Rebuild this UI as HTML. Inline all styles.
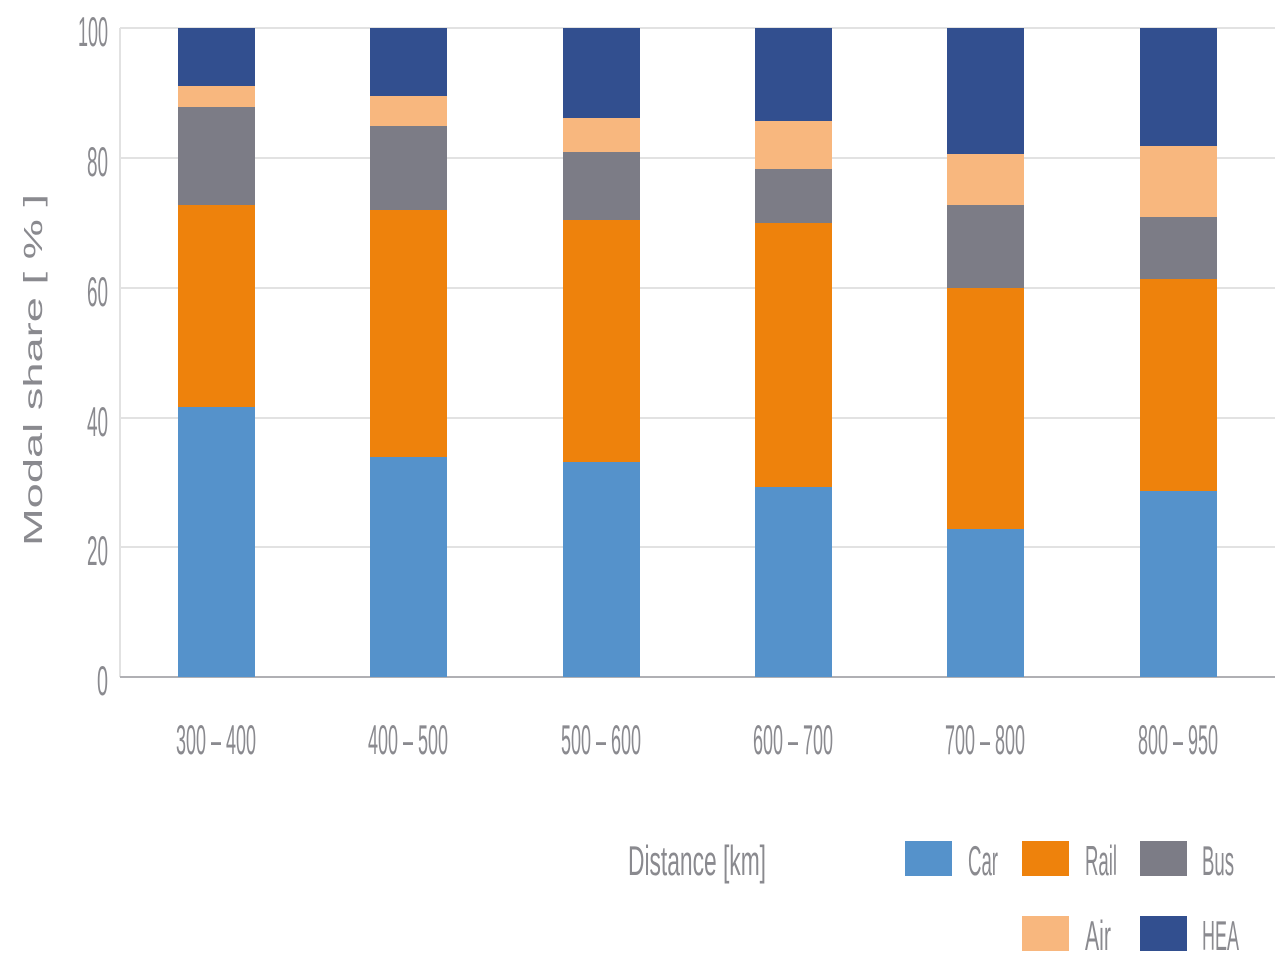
<!DOCTYPE html>
<html><head><meta charset="utf-8"><style>html,body{margin:0;padding:0;background:#fff;}svg{display:block}</style></head>
<body>
<svg width="1280" height="960" xmlns="http://www.w3.org/2000/svg" font-family="Liberation Sans, sans-serif" fill="#8a8a8f">
<g stroke="#e2e2e2" stroke-width="2">
<line x1="120" y1="28" x2="1275" y2="28"/>
<line x1="120" y1="158" x2="1275" y2="158"/>
<line x1="120" y1="288" x2="1275" y2="288"/>
<line x1="120" y1="418" x2="1275" y2="418"/>
<line x1="120" y1="547" x2="1275" y2="547"/>
<line x1="120" y1="28" x2="120" y2="677"/>
</g>
<line x1="120" y1="677" x2="1275" y2="677" stroke="#b0b0b4" stroke-width="2"/>
<g font-size="42">
<text x="108" y="46" text-anchor="end" textLength="30" lengthAdjust="spacingAndGlyphs">100</text>
<text x="108" y="176" text-anchor="end" textLength="21" lengthAdjust="spacingAndGlyphs">80</text>
<text x="108" y="306" text-anchor="end" textLength="21" lengthAdjust="spacingAndGlyphs">60</text>
<text x="108" y="436" text-anchor="end" textLength="21" lengthAdjust="spacingAndGlyphs">40</text>
<text x="108" y="565" text-anchor="end" textLength="21" lengthAdjust="spacingAndGlyphs">20</text>
<text x="108" y="695" text-anchor="end" textLength="11" lengthAdjust="spacingAndGlyphs">0</text>
</g>
<text transform="translate(42,370) rotate(-90)" text-anchor="middle" font-size="26" textLength="352" lengthAdjust="spacingAndGlyphs">Modal share [ % ]</text>
<g>
<rect x="178" y="407" width="77" height="270" fill="#5592CB"/>
<rect x="178" y="205" width="77" height="202" fill="#EE820C"/>
<rect x="178" y="107" width="77" height="98" fill="#7C7C86"/>
<rect x="178" y="86" width="77" height="21" fill="#F8B77E"/>
<rect x="178" y="28" width="77" height="58" fill="#324F8F"/>
<rect x="370" y="457" width="77" height="220" fill="#5592CB"/>
<rect x="370" y="210" width="77" height="247" fill="#EE820C"/>
<rect x="370" y="126" width="77" height="84" fill="#7C7C86"/>
<rect x="370" y="96" width="77" height="30" fill="#F8B77E"/>
<rect x="370" y="28" width="77" height="68" fill="#324F8F"/>
<rect x="563" y="462" width="77" height="215" fill="#5592CB"/>
<rect x="563" y="220" width="77" height="242" fill="#EE820C"/>
<rect x="563" y="152" width="77" height="68" fill="#7C7C86"/>
<rect x="563" y="118" width="77" height="34" fill="#F8B77E"/>
<rect x="563" y="28" width="77" height="90" fill="#324F8F"/>
<rect x="755" y="487" width="77" height="190" fill="#5592CB"/>
<rect x="755" y="223" width="77" height="264" fill="#EE820C"/>
<rect x="755" y="169" width="77" height="54" fill="#7C7C86"/>
<rect x="755" y="121" width="77" height="48" fill="#F8B77E"/>
<rect x="755" y="28" width="77" height="93" fill="#324F8F"/>
<rect x="947" y="529" width="77" height="148" fill="#5592CB"/>
<rect x="947" y="288" width="77" height="241" fill="#EE820C"/>
<rect x="947" y="205" width="77" height="83" fill="#7C7C86"/>
<rect x="947" y="154" width="77" height="51" fill="#F8B77E"/>
<rect x="947" y="28" width="77" height="126" fill="#324F8F"/>
<rect x="1140" y="491" width="77" height="186" fill="#5592CB"/>
<rect x="1140" y="279" width="77" height="212" fill="#EE820C"/>
<rect x="1140" y="217" width="77" height="62" fill="#7C7C86"/>
<rect x="1140" y="146" width="77" height="71" fill="#F8B77E"/>
<rect x="1140" y="28" width="77" height="118" fill="#324F8F"/>
</g>
<g font-size="42" text-anchor="middle">
<text x="216" y="754" textLength="80" lengthAdjust="spacingAndGlyphs">300 – 400</text>
<text x="408" y="754" textLength="80" lengthAdjust="spacingAndGlyphs">400 – 500</text>
<text x="601" y="754" textLength="80" lengthAdjust="spacingAndGlyphs">500 – 600</text>
<text x="793" y="754" textLength="80" lengthAdjust="spacingAndGlyphs">600 – 700</text>
<text x="985" y="754" textLength="80" lengthAdjust="spacingAndGlyphs">700 – 800</text>
<text x="1178" y="754" textLength="80" lengthAdjust="spacingAndGlyphs">800 – 950</text>
</g>
<g font-size="42">
<text x="628" y="875" textLength="138" lengthAdjust="spacingAndGlyphs">Distance [km]</text>
<rect x="905" y="841" width="47" height="35" fill="#5592CB"/>
<text x="968" y="875" textLength="30" lengthAdjust="spacingAndGlyphs">Car</text>
<rect x="1022" y="841" width="47" height="35" fill="#EE820C"/>
<text x="1085" y="875" textLength="32" lengthAdjust="spacingAndGlyphs">Rail</text>
<rect x="1140" y="841" width="47" height="35" fill="#7C7C86"/>
<text x="1202" y="875" textLength="32" lengthAdjust="spacingAndGlyphs">Bus</text>
<rect x="1022" y="916" width="47" height="35" fill="#F8B77E"/>
<text x="1085" y="950" textLength="26" lengthAdjust="spacingAndGlyphs">Air</text>
<rect x="1140" y="916" width="47" height="35" fill="#324F8F"/>
<text x="1202" y="950" textLength="37" lengthAdjust="spacingAndGlyphs">HEA</text>
</g>
</svg>
</body></html>
